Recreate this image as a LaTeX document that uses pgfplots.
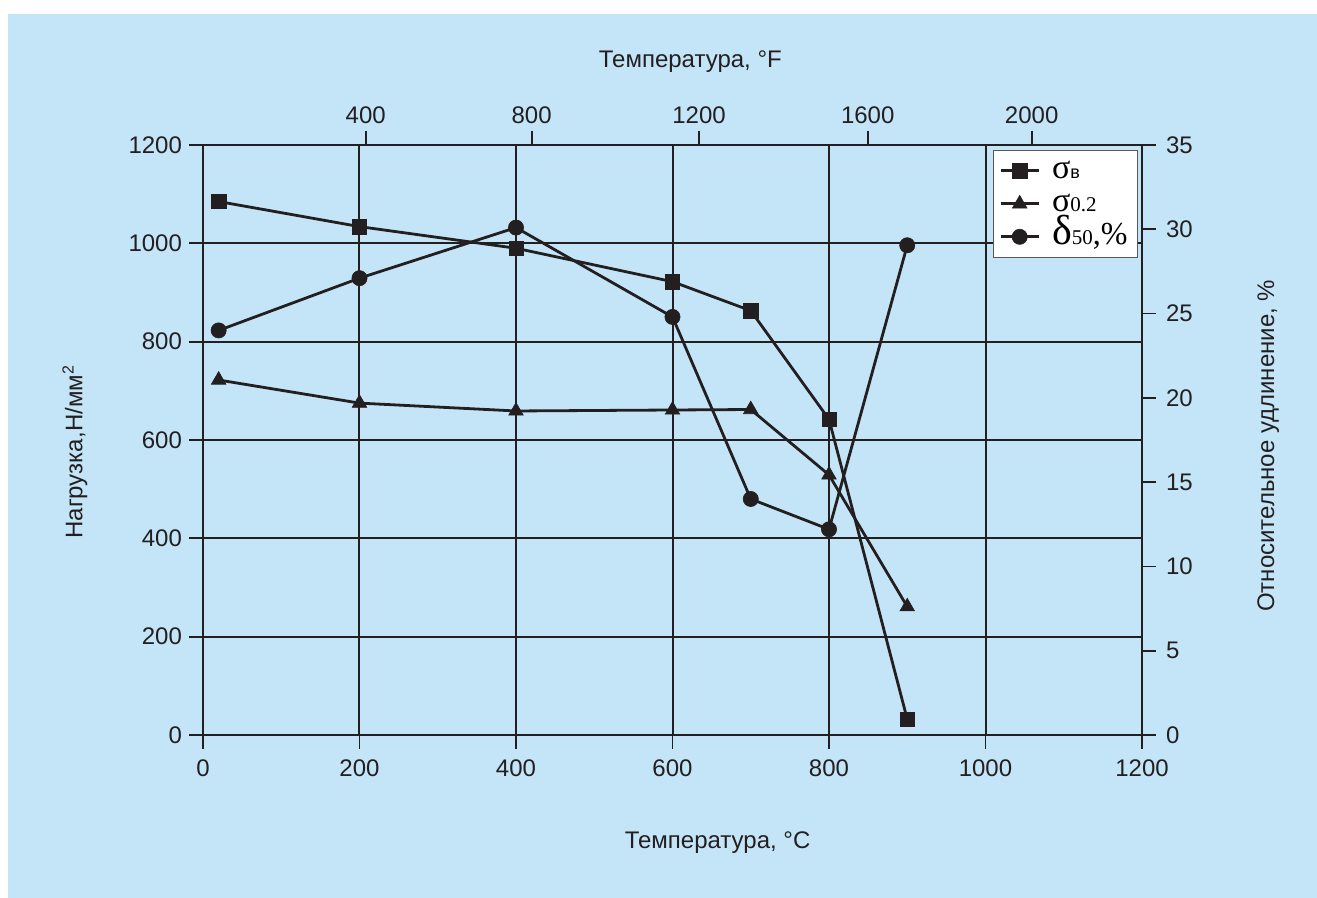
\documentclass[border=0pt]{standalone}
\usepackage{pgfplots}
\pgfplotsset{compat=1.18}
\usepackage{fontspec}
\setmainfont{Liberation Sans}
\newfontfamily\serif{Liberation Serif}
\definecolor{bg}{RGB}{196,229,248}
\definecolor{ink}{RGB}{35,31,32}
\pgfplotsset{
  sq/.style={ink, line width=1.4pt, mark=square*, mark size=3.6pt, mark options={solid, fill=ink, line width=0.3pt}},
  tri/.style={ink, line width=1.4pt, mark=triangle*, mark size=4.2pt, mark options={solid, fill=ink, line width=0.3pt}},
  circ/.style={ink, line width=1.4pt, mark=*, mark size=3.8pt, mark options={solid, fill=ink, line width=0.3pt}},
  common/.style={
    at={(0,0)}, anchor=south west, scale only axis, width=469.5pt, height=295pt,
    xmin=0, xmax=1200,
    tick align=outside, major tick length=7pt,
    axis line style={ink, line width=0.9pt},
    every tick/.style={ink, line width=0.9pt},
    tick label style={font=\fontsize{12}{12}\selectfont, text=ink},
    /pgf/number format/assume math mode=true,
    /pgf/number format/1000 sep={},
    label style={font=\fontsize{12}{12}\selectfont, text=ink},
  },
}
\begin{document}
\begin{tikzpicture}[x=1pt,y=1pt]
\useasboundingbox (-101.5,-81.5) rectangle (557,367.5);
\fill[white] (-105,-85) rectangle (560,370);
\fill[bg] (-97.5,-85) rectangle (560,360.5);
\begin{axis}[common,
  ymin=0, ymax=1200,
  xtick={0,200,...,1200}, ytick={0,200,...,1200},
  xtick pos=bottom, ytick pos=left,
  xticklabel style={yshift=-2pt},
  grid=major, grid style={ink, line width=1pt},
  xlabel={Температура, °C},
  ylabel={Нагрузка,Н/мм\textsuperscript{2}},
  xlabel style={at={(axis description cs:0.548,-0.183)}, anchor=center},
  ylabel style={at={(axis description cs:-0.1363,0.48)}, anchor=center},
]
\addplot[sq] coordinates {(20,1085) (200,1034) (400,990) (600,922) (700,863) (800,642) (900,32)};
\addplot[tri] coordinates {(20,722) (200,675) (400,659) (600,661) (700,662) (800,529) (900,261)};
\end{axis}
\begin{axis}[common,
  ymin=0, ymax=35,
  xtick={207.9,420,633.9,849.5,1059}, xticklabels={400,800,1200,1600,2000},
  ytick={0,5,...,35},
  xtick pos=top, xticklabel pos=top, ytick pos=right, yticklabel pos=right,
  yticklabel style={xshift=1.5pt},
  xlabel={Температура, °F},
  ylabel={Относительное удлинение, \%},
  xlabel style={at={(axis description cs:0.519,1.1406)}, anchor=center},
  ylabel style={at={(axis description cs:1.1345,0.49)}, anchor=center, rotate=0},
  legend style={at={(axis description cs:0.841,0.992)}, anchor=north west,
    draw=gray!70!black, fill=white, line width=0.6pt,
    inner xsep=3pt, inner ysep=2pt,
    nodes={inner ysep=0pt, inner xsep=2pt, text height=12pt, text depth=4.5pt},
    /tikz/every odd column/.append style={column sep=4pt}},
  legend cell align=left,
  legend image code/.code={\draw[mark repeat=2,mark phase=2,#1] plot coordinates {(0pt,0pt) (9.5pt,0pt) (19pt,0pt)};},
]
\addlegendimage{sq}
\addlegendentry{{\serif\fontsize{17}{17}\selectfont σ}{\fontsize{9}{9}\selectfont в}}
\addlegendimage{tri}
\addlegendentry{{\serif\fontsize{17}{17}\selectfont σ}{\serif\fontsize{10.5}{10.5}\selectfont 0.2}}
\addplot[circ] coordinates {(20,24.0) (200,27.1) (400,30.1) (600,24.8) (700,14.0) (800,12.2) (900,29.05)};
\addlegendentry{{\serif\fontsize{21}{21}\selectfont δ}{\serif\fontsize{10.5}{10.5}\selectfont 50}{\serif\fontsize{16}{16}\selectfont ,\%}}
\end{axis}
\end{tikzpicture}
\end{document}
